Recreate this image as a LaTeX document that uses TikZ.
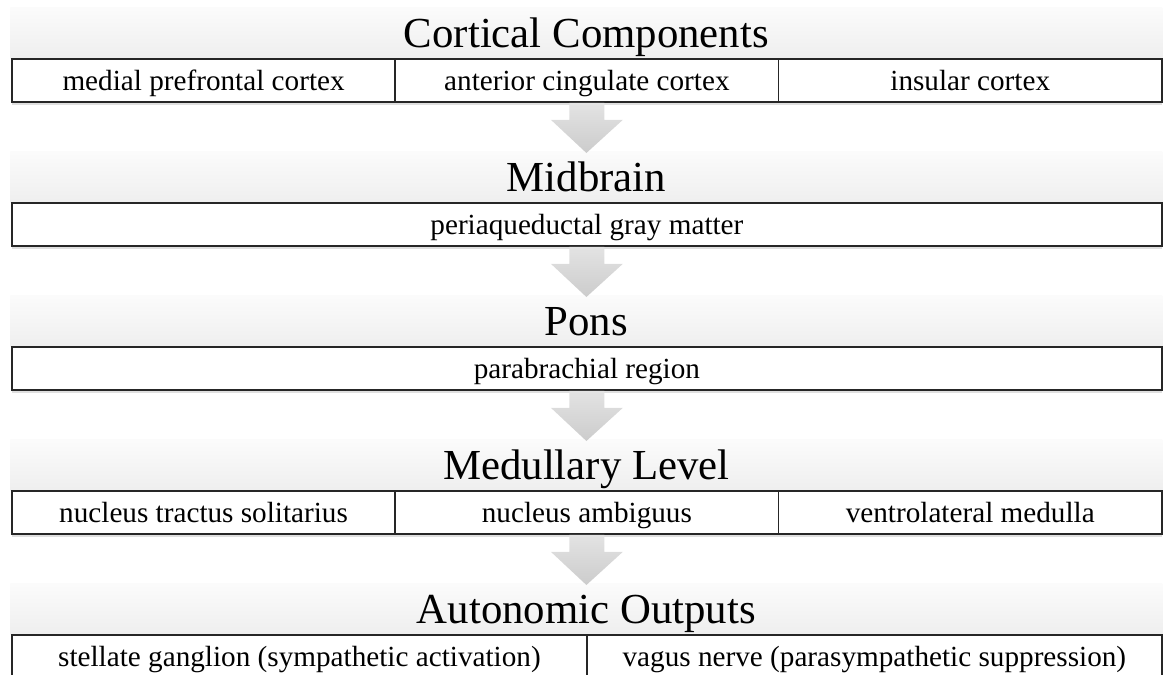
\documentclass[tikz,border=0pt]{standalone}
\usepackage{fontspec}
\setmainfont{Liberation Serif}
\usetikzlibrary{calc}
\usetikzlibrary{positioning}
\usetikzlibrary{shadows}

\begin{document}
\begin{tikzpicture}[x=0.5pt, y=-0.5pt,
  hdr/.style={anchor=north west, inner sep=0pt, minimum width=576pt, minimum height=25.5pt,
    top color=gray!3, bottom color=gray!13, font=\fontsize{21.4}{21.4}\selectfont,
    text height=14.1pt, text depth=0pt},
  cell/.style={anchor=north west, draw=black!85, line width=0.9pt, fill=white, inner sep=0pt,
    minimum height=21.5pt, font=\fontsize{14.6}{14.6}\selectfont, text height=9.9pt, text depth=0pt,
    drop shadow={opacity=0.25, shadow xshift=0pt, shadow yshift=-1.5pt}},
  third/.style={cell, minimum width=191.67pt},
  half/.style={cell, minimum width=287.5pt},
  full/.style={cell, minimum width=575pt},
  downarrow/.style={top color=gray!22, bottom color=gray!40, draw=none}]

\clip (0,0) rectangle (1163,675);

% levels
\node[hdr] (cortical) at (10,7) {Cortical Components};
\node[third] (mpfc) at (11,58) {medial prefrontal cortex};
\node[third] (acc) at (394.33,58) {anterior cingulate cortex};
\node[third] (ins) at (777.67,58) {insular cortex};

\node[hdr] (midbrain) at (10,151) {Midbrain};
\node[full] (pag) at (11,202) {periaqueductal gray matter};

\node[hdr] (pons) at (10,295) {Pons};
\node[full] (pbn) at (11,346) {parabrachial region};

\node[hdr] (medulla) at (10,439) {Medullary Level};
\node[third] (nts) at (11,490) {nucleus tractus solitarius};
\node[third] (nuca) at (394.33,490) {nucleus ambiguus};
\node[third] (vlm) at (777.67,490) {ventrolateral medulla};

\node[hdr] (autonomic) at (10,583) {Autonomic Outputs};
\node[half] (stel) at (11,634) {stellate ganglion (sympathetic activation)};
\node[half] (vag) at (586,634) {vagus nerve (parasympathetic suppression)};

% arrows between levels
\foreach \a/\b in {acc/midbrain, pag/pons, pbn/medulla, nuca/autonomic}
  \shade[downarrow] ($(\a.south)+(-17.5,0)$) -- ($(\a.south)+(-17.5,17)$) -- ($(\a.south)+(-36,17)$)
    -- ($(\b.north)+(0,2)$) -- ($(\a.south)+(36,17)$) -- ($(\a.south)+(17.5,17)$)
    -- ($(\a.south)+(17.5,0)$) -- cycle;

\end{tikzpicture}
\end{document}
